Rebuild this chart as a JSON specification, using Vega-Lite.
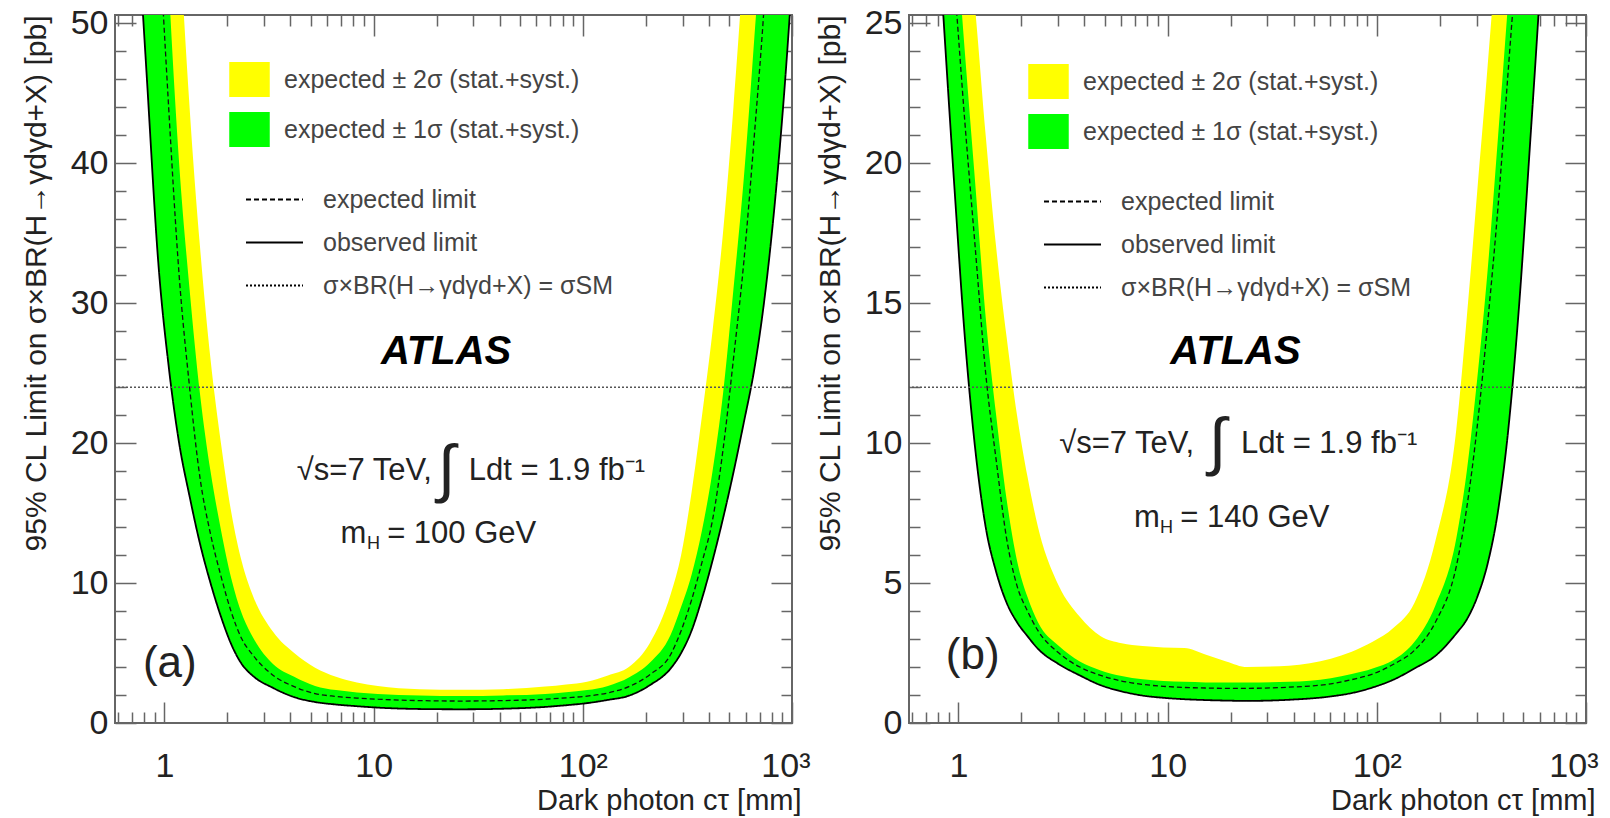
{
  "$schema": "https://vega.github.io/schema/vega-lite/v6.json",
  "background": "white",
  "padding": {"left": 20, "top": 5, "right": 0, "bottom": 0},
  "spacing": 3,
  "config": {
    "view": {"stroke": "#666", "strokeWidth": 2},
    "font": "Liberation Sans",
    "text": {"fontWeight": "normal"},
    "axis": {"grid": false, "domain": false, "tickColor": "#666", "tickWidth": 1.5, "labelFont": "Liberation Sans", "labelColor": "#222", "labelFlush": false, "labelOverlap": false, "titleFont": "Liberation Sans", "titleFontWeight": "normal", "titleColor": "#222"},
    "legend": {"labelFont": "Liberation Sans", "labelColor": "#444", "labelLimit": 0, "padding": 0}
  },
  "resolve": {
    "scale": {"x": "independent", "y": "independent", "fill": "independent", "strokeDash": "independent"},
    "legend": {"fill": "independent", "strokeDash": "independent"}
  },
  "datasets": {
    "m100": [
      {"ct": 0.589, "obs": 95, "exp": 160, "p1s": 190, "p2s": 250},
      {"ct": 0.661, "obs": 75, "exp": 125, "p1s": 150, "p2s": 200},
      {"ct": 0.741, "obs": 58, "exp": 98, "p1s": 120, "p2s": 160},
      {"ct": 0.832, "obs": 45, "exp": 76, "p1s": 92, "p2s": 125},
      {"ct": 0.933, "obs": 33, "exp": 58, "p1s": 70, "p2s": 97},
      {"ct": 1.047, "obs": 25.5, "exp": 44, "p1s": 53, "p2s": 75},
      {"ct": 1.175, "obs": 20, "exp": 32, "p1s": 40, "p2s": 57},
      {"ct": 1.318, "obs": 16.2, "exp": 24, "p1s": 31, "p2s": 44},
      {"ct": 1.479, "obs": 12.8, "exp": 17.5, "p1s": 23.5, "p2s": 34},
      {"ct": 1.66, "obs": 10, "exp": 13.5, "p1s": 18, "p2s": 26},
      {"ct": 1.862, "obs": 7.6, "exp": 10.5, "p1s": 13.8, "p2s": 20},
      {"ct": 2.089, "obs": 5.6, "exp": 7.9, "p1s": 10.3, "p2s": 15},
      {"ct": 2.344, "obs": 4.2, "exp": 6, "p1s": 7.8, "p2s": 11.5},
      {"ct": 2.63, "obs": 3.4, "exp": 4.9, "p1s": 6.2, "p2s": 9.2},
      {"ct": 3.311, "obs": 2.5, "exp": 3.4, "p1s": 4.2, "p2s": 6.5},
      {"ct": 4.169, "obs": 1.85, "exp": 2.6, "p1s": 3.3, "p2s": 5},
      {"ct": 5.248, "obs": 1.5, "exp": 2.1, "p1s": 2.65, "p2s": 3.95},
      {"ct": 6.607, "obs": 1.32, "exp": 1.9, "p1s": 2.35, "p2s": 3.3},
      {"ct": 8.318, "obs": 1.2, "exp": 1.78, "p1s": 2.18, "p2s": 2.9},
      {"ct": 10.47, "obs": 1.1, "exp": 1.7, "p1s": 2.08, "p2s": 2.65},
      {"ct": 16.6, "obs": 1.0, "exp": 1.6, "p1s": 1.97, "p2s": 2.42},
      {"ct": 26.3, "obs": 0.98, "exp": 1.57, "p1s": 1.93, "p2s": 2.38},
      {"ct": 41.69, "obs": 1.02, "exp": 1.6, "p1s": 1.97, "p2s": 2.42},
      {"ct": 66.07, "obs": 1.15, "exp": 1.7, "p1s": 2.08, "p2s": 2.6},
      {"ct": 83.18, "obs": 1.27, "exp": 1.8, "p1s": 2.2, "p2s": 2.75},
      {"ct": 104.7, "obs": 1.42, "exp": 1.92, "p1s": 2.35, "p2s": 2.95},
      {"ct": 131.8, "obs": 1.65, "exp": 2.15, "p1s": 2.65, "p2s": 3.4},
      {"ct": 166, "obs": 1.95, "exp": 2.6, "p1s": 3.25, "p2s": 4.0},
      {"ct": 208.9, "obs": 2.7, "exp": 3.45, "p1s": 4.3, "p2s": 5.7},
      {"ct": 263, "obs": 3.9, "exp": 4.9, "p1s": 6.3, "p2s": 9.2},
      {"ct": 295.1, "obs": 5.0, "exp": 6.6, "p1s": 8.3, "p2s": 12},
      {"ct": 331.1, "obs": 6.6, "exp": 8.8, "p1s": 10.6, "p2s": 16.5},
      {"ct": 371.5, "obs": 8.9, "exp": 11.5, "p1s": 13.8, "p2s": 22},
      {"ct": 416.9, "obs": 11.6, "exp": 14.5, "p1s": 18, "p2s": 28},
      {"ct": 467.7, "obs": 14.6, "exp": 19.5, "p1s": 23.5, "p2s": 35},
      {"ct": 524.8, "obs": 17.9, "exp": 26, "p1s": 31, "p2s": 44},
      {"ct": 588.8, "obs": 21.5, "exp": 33, "p1s": 39, "p2s": 55},
      {"ct": 660.7, "obs": 25.3, "exp": 42, "p1s": 49, "p2s": 70},
      {"ct": 741.3, "obs": 30.5, "exp": 52, "p1s": 60, "p2s": 90},
      {"ct": 831.8, "obs": 37.5, "exp": 66, "p1s": 78, "p2s": 115},
      {"ct": 933.3, "obs": 46.5, "exp": 85, "p1s": 100, "p2s": 150},
      {"ct": 1000, "obs": 53, "exp": 98, "p1s": 115, "p2s": 175}
    ],
    "m140": [
      {"ct": 0.575, "obs": 55, "exp": 70, "p1s": 78, "p2s": 90},
      {"ct": 0.603, "obs": 50, "exp": 62, "p1s": 70, "p2s": 82},
      {"ct": 0.676, "obs": 40, "exp": 48, "p1s": 54, "p2s": 66},
      {"ct": 0.759, "obs": 31, "exp": 38, "p1s": 43, "p2s": 52},
      {"ct": 0.851, "obs": 25, "exp": 31, "p1s": 34, "p2s": 40},
      {"ct": 0.955, "obs": 19.2, "exp": 26.5, "p1s": 29, "p2s": 33},
      {"ct": 1.072, "obs": 13.8, "exp": 21.5, "p1s": 24, "p2s": 29},
      {"ct": 1.202, "obs": 9.8, "exp": 17, "p1s": 19.3, "p2s": 25.5},
      {"ct": 1.349, "obs": 7.0, "exp": 12.5, "p1s": 14.5, "p2s": 21},
      {"ct": 1.514, "obs": 5.4, "exp": 9.4, "p1s": 11, "p2s": 17},
      {"ct": 1.698, "obs": 4.3, "exp": 6.6, "p1s": 8.0, "p2s": 13.8},
      {"ct": 1.905, "obs": 3.6, "exp": 4.9, "p1s": 5.8, "p2s": 11},
      {"ct": 2.138, "obs": 3.1, "exp": 4.0, "p1s": 4.5, "p2s": 8.8},
      {"ct": 2.399, "obs": 2.65, "exp": 3.3, "p1s": 3.6, "p2s": 7.0},
      {"ct": 3.02, "obs": 2.1, "exp": 2.5, "p1s": 2.75, "p2s": 4.9},
      {"ct": 3.802, "obs": 1.7, "exp": 2.0, "p1s": 2.2, "p2s": 3.8},
      {"ct": 4.786, "obs": 1.35, "exp": 1.7, "p1s": 1.88, "p2s": 3.1},
      {"ct": 6.026, "obs": 1.13, "exp": 1.5, "p1s": 1.68, "p2s": 2.85},
      {"ct": 7.586, "obs": 0.98, "exp": 1.38, "p1s": 1.56, "p2s": 2.75},
      {"ct": 9.55, "obs": 0.9, "exp": 1.31, "p1s": 1.5, "p2s": 2.7},
      {"ct": 12.02, "obs": 0.85, "exp": 1.27, "p1s": 1.47, "p2s": 2.68},
      {"ct": 15.14, "obs": 0.82, "exp": 1.25, "p1s": 1.45, "p2s": 2.45},
      {"ct": 19.05, "obs": 0.8, "exp": 1.24, "p1s": 1.45, "p2s": 2.2},
      {"ct": 23.99, "obs": 0.79, "exp": 1.24, "p1s": 1.45, "p2s": 2.0},
      {"ct": 38.02, "obs": 0.83, "exp": 1.28, "p1s": 1.47, "p2s": 2.05},
      {"ct": 60.26, "obs": 0.95, "exp": 1.4, "p1s": 1.6, "p2s": 2.3},
      {"ct": 75.86, "obs": 1.07, "exp": 1.55, "p1s": 1.75, "p2s": 2.55},
      {"ct": 95.5, "obs": 1.27, "exp": 1.75, "p1s": 1.95, "p2s": 2.9},
      {"ct": 120.2, "obs": 1.55, "exp": 2.1, "p1s": 2.25, "p2s": 3.4},
      {"ct": 151.4, "obs": 1.95, "exp": 2.6, "p1s": 2.9, "p2s": 4.3},
      {"ct": 190.5, "obs": 2.4, "exp": 3.6, "p1s": 4.2, "p2s": 6.5},
      {"ct": 239.9, "obs": 3.2, "exp": 5.6, "p1s": 6.6, "p2s": 10.5},
      {"ct": 269.2, "obs": 3.7, "exp": 7.7, "p1s": 9.0, "p2s": 14.5},
      {"ct": 302, "obs": 4.5, "exp": 10.6, "p1s": 12.3, "p2s": 19},
      {"ct": 338.8, "obs": 5.7, "exp": 14.3, "p1s": 16.2, "p2s": 23.5},
      {"ct": 380.2, "obs": 7.6, "exp": 18.5, "p1s": 21, "p2s": 28.5},
      {"ct": 426.6, "obs": 10.6, "exp": 23.5, "p1s": 26, "p2s": 35},
      {"ct": 478.6, "obs": 14.9, "exp": 28.5, "p1s": 31, "p2s": 42},
      {"ct": 537, "obs": 20.4, "exp": 34, "p1s": 39, "p2s": 50},
      {"ct": 602.6, "obs": 26.2, "exp": 44, "p1s": 48, "p2s": 60},
      {"ct": 676.1, "obs": 32.8, "exp": 53, "p1s": 61, "p2s": 72},
      {"ct": 758.6, "obs": 42, "exp": 70, "p1s": 77, "p2s": 88},
      {"ct": 851.1, "obs": 51, "exp": 85, "p1s": 92, "p2s": 105},
      {"ct": 955, "obs": 60, "exp": 100, "p1s": 104, "p2s": 125},
      {"ct": 1000, "obs": 64, "exp": 108, "p1s": 112, "p2s": 135}
    ],
    "one": [{"k": 1}]
  },
  "hconcat": [
    {
      "width": 677, "height": 708,
      "data": {"name": "m100"},
      "resolve": {"axis": {"x": "independent", "y": "independent"}},
      "layer": [
        {
          "mark": {"type": "area", "clip": true, "interpolate": "monotone", "opacity": 1},
          "encoding": {
            "x": {"field": "ct", "type": "quantitative", "scale": {"type": "log", "domain": [0.58, 1000], "nice": false},
              "axis": {"orient": "bottom", "values": [1, 10, 100, 1000], "labelExpr": "datum.value == 1 ? '1' : datum.value == 10 ? '10' : datum.value == 100 ? '10²' : '10³'", "tickSize": -21, "labelFontSize": 34, "labelPadding": 47, "labelFlush": true, "labelFlushOffset": 18, "title": "Dark photon cτ [mm]", "titleFontSize": 29, "titleX": 686, "titleAlign": "right", "titleAnchor": "end", "titlePadding": 3}},
            "y": {"field": "obs", "type": "quantitative", "scale": {"domain": [0, 50.6], "nice": false, "zero": false},
              "axis": {"orient": "left", "values": [0, 10, 20, 30, 40, 50], "tickSize": -21, "labelFontSize": 34, "labelPadding": 28, "title": "95% CL Limit on σ×BR(H→γdγd+X) [pb]", "titleFontSize": 30, "titleAnchor": "end", "titlePadding": 19}},
            "y2": {"field": "p2s"},
            "fill": {"datum": "expected ± 2σ (stat.+syst.)", "type": "nominal",
              "scale": {"domain": ["expected ± 2σ (stat.+syst.)", "expected ± 1σ (stat.+syst.)"], "range": ["#ffff00", "#00ff00"]},
              "legend": {"orient": "none", "legendX": 114, "legendY": 44, "title": null, "symbolType": "M-1,-0.86L1,-0.86L1,0.86L-1,0.86Z", "symbolSize": 1640, "symbolStrokeWidth": 0, "symbolOpacity": 1, "labelFontSize": 25, "labelOffset": 14, "rowPadding": 12}}
          }
        },
        {
          "mark": {"type": "area", "clip": true, "interpolate": "monotone", "opacity": 1},
          "encoding": {
            "x": {"field": "ct", "type": "quantitative", "scale": {"type": "log", "domain": [0.58, 1000], "nice": false},
              "axis": {"orient": "top", "values": [1, 10, 100, 1000], "labels": false, "tickSize": -21, "title": null}},
            "y": {"field": "obs", "type": "quantitative", "scale": {"domain": [0, 50.6], "nice": false, "zero": false},
              "axis": {"orient": "right", "values": [0, 10, 20, 30, 40, 50], "labels": false, "tickSize": -21, "title": null}},
            "y2": {"field": "p1s"},
            "fill": {"datum": "expected ± 1σ (stat.+syst.)", "type": "nominal"}
          }
        },
        {
          "mark": {"type": "line", "clip": true, "interpolate": "monotone", "color": "#111", "strokeWidth": 1.3},
          "encoding": {
            "x": {"field": "ct", "type": "quantitative", "scale": {"type": "log", "domain": [0.58, 1000], "nice": false},
              "axis": {"orient": "bottom", "values": [0.6, 0.7, 0.8, 0.9, 2, 3, 4, 5, 6, 7, 8, 9, 20, 30, 40, 50, 60, 70, 80, 90, 200, 300, 400, 500, 600, 700, 800, 900], "labels": false, "tickSize": -11, "title": null}},
            "y": {"field": "exp", "type": "quantitative", "scale": {"domain": [0, 50.6], "nice": false, "zero": false},
              "axis": {"orient": "left", "values": [2, 4, 6, 8, 12, 14, 16, 18, 22, 24, 26, 28, 32, 34, 36, 38, 42, 44, 46, 48], "labels": false, "tickSize": -11, "title": null}},
            "strokeDash": {"datum": "expected limit", "type": "nominal",
              "scale": {"domain": ["expected limit", "observed limit", "σ×BR(H→γdγd+X) = σSM"], "range": [[5, 3], [1, 0], [2, 2]]},
              "legend": {"orient": "none", "legendX": 130, "legendY": 155, "title": null, "symbolType": "stroke", "symbolSize": 3249, "symbolStrokeWidth": 2, "symbolStrokeColor": "#555", "labelFontSize": 25, "labelOffset": 19, "rowPadding": -12}}
          }
        },
        {
          "mark": {"type": "line", "clip": true, "interpolate": "monotone", "color": "#000", "strokeWidth": 1.8},
          "encoding": {
            "x": {"field": "ct", "type": "quantitative", "scale": {"type": "log", "domain": [0.58, 1000], "nice": false},
              "axis": {"orient": "top", "values": [0.6, 0.7, 0.8, 0.9, 2, 3, 4, 5, 6, 7, 8, 9, 20, 30, 40, 50, 60, 70, 80, 90, 200, 300, 400, 500, 600, 700, 800, 900], "labels": false, "tickSize": -11, "title": null}},
            "y": {"field": "obs", "type": "quantitative", "scale": {"domain": [0, 50.6], "nice": false, "zero": false},
              "axis": {"orient": "right", "values": [2, 4, 6, 8, 12, 14, 16, 18, 22, 24, 26, 28, 32, 34, 36, 38, 42, 44, 46, 48], "labels": false, "tickSize": -11, "title": null}},
            "strokeDash": {"datum": "observed limit", "type": "nominal"}
          }
        },
        {
          "data": {"name": "one"},
          "mark": {"type": "rule", "color": "#555", "strokeWidth": 1.6},
          "encoding": {
            "y": {"datum": 24, "type": "quantitative", "scale": {"domain": [0, 50.6], "nice": false, "zero": false}, "axis": null},
            "strokeDash": {"datum": "σ×BR(H→γdγd+X) = σSM", "type": "nominal"}
          }
        },
        {
          "data": {"name": "one"},
          "mark": {"type": "text", "text": "ATLAS", "font": "Liberation Sans", "fontSize": 40, "fontWeight": "bold", "fontStyle": "italic", "align": "center", "baseline": "middle", "fill": "#000"},
          "encoding": {
            "x": {"datum": 22.2, "type": "quantitative", "scale": {"type": "log", "domain": [0.58, 1000], "nice": false}, "axis": null},
            "y": {"datum": 26.5, "type": "quantitative", "scale": {"domain": [0, 50.6], "nice": false, "zero": false}, "axis": null}
          }
        },
        {
          "data": {"name": "one"},
          "mark": {"type": "text", "text": "√s=7 TeV,", "fontSize": 31, "fontWeight": "normal", "align": "right", "baseline": "middle", "fill": "#222"},
          "encoding": {
            "x": {"datum": 19.0, "type": "quantitative", "scale": {"type": "log", "domain": [0.58, 1000], "nice": false}, "axis": null},
            "y": {"datum": 18.0, "type": "quantitative", "scale": {"domain": [0, 50.6], "nice": false, "zero": false}, "axis": null}
          }
        },
        {
          "data": {"name": "one"},
          "mark": {"type": "text", "text": "∫", "fontSize": 64, "fontWeight": "normal", "align": "center", "baseline": "middle", "fill": "#222"},
          "encoding": {
            "x": {"datum": 22.3, "type": "quantitative", "scale": {"type": "log", "domain": [0.58, 1000], "nice": false}, "axis": null},
            "y": {"datum": 18.0, "type": "quantitative", "scale": {"domain": [0, 50.6], "nice": false, "zero": false}, "axis": null}
          }
        },
        {
          "data": {"name": "one"},
          "mark": {"type": "text", "text": "Ldt = 1.9 fb⁻¹", "fontSize": 31, "fontWeight": "normal", "align": "left", "baseline": "middle", "fill": "#222"},
          "encoding": {
            "x": {"datum": 28.5, "type": "quantitative", "scale": {"type": "log", "domain": [0.58, 1000], "nice": false}, "axis": null},
            "y": {"datum": 18.0, "type": "quantitative", "scale": {"domain": [0, 50.6], "nice": false, "zero": false}, "axis": null}
          }
        },
        {
          "data": {"name": "one"},
          "mark": {"type": "text", "text": "m", "fontSize": 31, "fontWeight": "normal", "align": "left", "baseline": "middle", "fill": "#222"},
          "encoding": {
            "x": {"datum": 6.95, "type": "quantitative", "scale": {"type": "log", "domain": [0.58, 1000], "nice": false}, "axis": null},
            "y": {"datum": 13.5, "type": "quantitative", "scale": {"domain": [0, 50.6], "nice": false, "zero": false}, "axis": null}
          }
        },
        {
          "data": {"name": "one"},
          "mark": {"type": "text", "text": "H", "fontSize": 18, "fontWeight": "normal", "align": "left", "baseline": "middle", "dy": 10, "fill": "#222"},
          "encoding": {
            "x": {"datum": 9.29, "type": "quantitative", "scale": {"type": "log", "domain": [0.58, 1000], "nice": false}, "axis": null},
            "y": {"datum": 13.5, "type": "quantitative", "scale": {"domain": [0, 50.6], "nice": false, "zero": false}, "axis": null}
          }
        },
        {
          "data": {"name": "one"},
          "mark": {"type": "text", "text": "= 100 GeV", "fontSize": 31, "fontWeight": "normal", "align": "left", "baseline": "middle", "fill": "#222"},
          "encoding": {
            "x": {"datum": 11.6, "type": "quantitative", "scale": {"type": "log", "domain": [0.58, 1000], "nice": false}, "axis": null},
            "y": {"datum": 13.5, "type": "quantitative", "scale": {"domain": [0, 50.6], "nice": false, "zero": false}, "axis": null}
          }
        },
        {
          "data": {"name": "one"},
          "mark": {"type": "text", "text": "(a)", "fontSize": 44, "fontWeight": "normal", "align": "center", "baseline": "middle", "fill": "#222"},
          "encoding": {
            "x": {"datum": 1.06, "type": "quantitative", "scale": {"type": "log", "domain": [0.58, 1000], "nice": false}, "axis": null},
            "y": {"datum": 4.22, "type": "quantitative", "scale": {"domain": [0, 50.6], "nice": false, "zero": false}, "axis": null}
          }
        }
      ]
    },
    {
      "width": 677, "height": 708,
      "data": {"name": "m140"},
      "resolve": {"axis": {"x": "independent", "y": "independent"}},
      "layer": [
        {
          "mark": {"type": "area", "clip": true, "interpolate": "monotone", "opacity": 1},
          "encoding": {
            "x": {"field": "ct", "type": "quantitative", "scale": {"type": "log", "domain": [0.58, 1000], "nice": false},
              "axis": {"orient": "bottom", "values": [1, 10, 100, 1000], "labelExpr": "datum.value == 1 ? '1' : datum.value == 10 ? '10' : datum.value == 100 ? '10²' : '10³'", "tickSize": -21, "labelFontSize": 34, "labelPadding": 47, "labelFlush": true, "labelFlushOffset": 12, "title": "Dark photon cτ [mm]", "titleFontSize": 29, "titleX": 686, "titleAlign": "right", "titleAnchor": "end", "titlePadding": 3}},
            "y": {"field": "obs", "type": "quantitative", "scale": {"domain": [0, 25.3], "nice": false, "zero": false},
              "axis": {"orient": "left", "values": [0, 5, 10, 15, 20, 25], "tickSize": -21, "labelFontSize": 34, "labelPadding": 28, "title": "95% CL Limit on σ×BR(H→γdγd+X) [pb]", "titleFontSize": 30, "titleAnchor": "end", "titlePadding": 19}},
            "y2": {"field": "p2s"},
            "fill": {"datum": "expected ± 2σ (stat.+syst.)", "type": "nominal",
              "scale": {"domain": ["expected ± 2σ (stat.+syst.)", "expected ± 1σ (stat.+syst.)"], "range": ["#ffff00", "#00ff00"]},
              "legend": {"orient": "none", "legendX": 119, "legendY": 46, "title": null, "symbolType": "M-1,-0.86L1,-0.86L1,0.86L-1,0.86Z", "symbolSize": 1640, "symbolStrokeWidth": 0, "symbolOpacity": 1, "labelFontSize": 25, "labelOffset": 14, "rowPadding": 12}}
          }
        },
        {
          "mark": {"type": "area", "clip": true, "interpolate": "monotone", "opacity": 1},
          "encoding": {
            "x": {"field": "ct", "type": "quantitative", "scale": {"type": "log", "domain": [0.58, 1000], "nice": false},
              "axis": {"orient": "top", "values": [1, 10, 100, 1000], "labels": false, "tickSize": -21, "title": null}},
            "y": {"field": "obs", "type": "quantitative", "scale": {"domain": [0, 25.3], "nice": false, "zero": false},
              "axis": {"orient": "right", "values": [0, 5, 10, 15, 20, 25], "labels": false, "tickSize": -21, "title": null}},
            "y2": {"field": "p1s"},
            "fill": {"datum": "expected ± 1σ (stat.+syst.)", "type": "nominal"}
          }
        },
        {
          "mark": {"type": "line", "clip": true, "interpolate": "monotone", "color": "#111", "strokeWidth": 1.3},
          "encoding": {
            "x": {"field": "ct", "type": "quantitative", "scale": {"type": "log", "domain": [0.58, 1000], "nice": false},
              "axis": {"orient": "bottom", "values": [0.6, 0.7, 0.8, 0.9, 2, 3, 4, 5, 6, 7, 8, 9, 20, 30, 40, 50, 60, 70, 80, 90, 200, 300, 400, 500, 600, 700, 800, 900], "labels": false, "tickSize": -11, "title": null}},
            "y": {"field": "exp", "type": "quantitative", "scale": {"domain": [0, 25.3], "nice": false, "zero": false},
              "axis": {"orient": "left", "values": [1, 2, 3, 4, 6, 7, 8, 9, 11, 12, 13, 14, 16, 17, 18, 19, 21, 22, 23, 24], "labels": false, "tickSize": -11, "title": null}},
            "strokeDash": {"datum": "expected limit", "type": "nominal",
              "scale": {"domain": ["expected limit", "observed limit", "σ×BR(H→γdγd+X) = σSM"], "range": [[5, 3], [1, 0], [2, 2]]},
              "legend": {"orient": "none", "legendX": 134, "legendY": 157, "title": null, "symbolType": "stroke", "symbolSize": 3249, "symbolStrokeWidth": 2, "symbolStrokeColor": "#555", "labelFontSize": 25, "labelOffset": 19, "rowPadding": -12}}
          }
        },
        {
          "mark": {"type": "line", "clip": true, "interpolate": "monotone", "color": "#000", "strokeWidth": 1.8},
          "encoding": {
            "x": {"field": "ct", "type": "quantitative", "scale": {"type": "log", "domain": [0.58, 1000], "nice": false},
              "axis": {"orient": "top", "values": [0.6, 0.7, 0.8, 0.9, 2, 3, 4, 5, 6, 7, 8, 9, 20, 30, 40, 50, 60, 70, 80, 90, 200, 300, 400, 500, 600, 700, 800, 900], "labels": false, "tickSize": -11, "title": null}},
            "y": {"field": "obs", "type": "quantitative", "scale": {"domain": [0, 25.3], "nice": false, "zero": false},
              "axis": {"orient": "right", "values": [1, 2, 3, 4, 6, 7, 8, 9, 11, 12, 13, 14, 16, 17, 18, 19, 21, 22, 23, 24], "labels": false, "tickSize": -11, "title": null}},
            "strokeDash": {"datum": "observed limit", "type": "nominal"}
          }
        },
        {
          "data": {"name": "one"},
          "mark": {"type": "rule", "color": "#555", "strokeWidth": 1.6},
          "encoding": {
            "y": {"datum": 12, "type": "quantitative", "scale": {"domain": [0, 25.3], "nice": false, "zero": false}, "axis": null},
            "strokeDash": {"datum": "σ×BR(H→γdγd+X) = σSM", "type": "nominal"}
          }
        },
        {
          "data": {"name": "one"},
          "mark": {"type": "text", "text": "ATLAS", "font": "Liberation Sans", "fontSize": 40, "fontWeight": "bold", "fontStyle": "italic", "align": "center", "baseline": "middle", "fill": "#000"},
          "encoding": {
            "x": {"datum": 21.1, "type": "quantitative", "scale": {"type": "log", "domain": [0.58, 1000], "nice": false}, "axis": null},
            "y": {"datum": 13.25, "type": "quantitative", "scale": {"domain": [0, 25.3], "nice": false, "zero": false}, "axis": null}
          }
        },
        {
          "data": {"name": "one"},
          "mark": {"type": "text", "text": "√s=7 TeV,", "fontSize": 31, "fontWeight": "normal", "align": "right", "baseline": "middle", "fill": "#222"},
          "encoding": {
            "x": {"datum": 13.4, "type": "quantitative", "scale": {"type": "log", "domain": [0.58, 1000], "nice": false}, "axis": null},
            "y": {"datum": 9.96, "type": "quantitative", "scale": {"domain": [0, 25.3], "nice": false, "zero": false}, "axis": null}
          }
        },
        {
          "data": {"name": "one"},
          "mark": {"type": "text", "text": "∫", "fontSize": 64, "fontWeight": "normal", "align": "center", "baseline": "middle", "fill": "#222"},
          "encoding": {
            "x": {"datum": 17.3, "type": "quantitative", "scale": {"type": "log", "domain": [0.58, 1000], "nice": false}, "axis": null},
            "y": {"datum": 9.96, "type": "quantitative", "scale": {"domain": [0, 25.3], "nice": false, "zero": false}, "axis": null}
          }
        },
        {
          "data": {"name": "one"},
          "mark": {"type": "text", "text": "Ldt = 1.9 fb⁻¹", "fontSize": 31, "fontWeight": "normal", "align": "left", "baseline": "middle", "fill": "#222"},
          "encoding": {
            "x": {"datum": 22.4, "type": "quantitative", "scale": {"type": "log", "domain": [0.58, 1000], "nice": false}, "axis": null},
            "y": {"datum": 9.96, "type": "quantitative", "scale": {"domain": [0, 25.3], "nice": false, "zero": false}, "axis": null}
          }
        },
        {
          "data": {"name": "one"},
          "mark": {"type": "text", "text": "m", "fontSize": 31, "fontWeight": "normal", "align": "left", "baseline": "middle", "fill": "#222"},
          "encoding": {
            "x": {"datum": 6.9, "type": "quantitative", "scale": {"type": "log", "domain": [0.58, 1000], "nice": false}, "axis": null},
            "y": {"datum": 7.34, "type": "quantitative", "scale": {"domain": [0, 25.3], "nice": false, "zero": false}, "axis": null}
          }
        },
        {
          "data": {"name": "one"},
          "mark": {"type": "text", "text": "H", "fontSize": 18, "fontWeight": "normal", "align": "left", "baseline": "middle", "dy": 10, "fill": "#222"},
          "encoding": {
            "x": {"datum": 9.2, "type": "quantitative", "scale": {"type": "log", "domain": [0.58, 1000], "nice": false}, "axis": null},
            "y": {"datum": 7.34, "type": "quantitative", "scale": {"domain": [0, 25.3], "nice": false, "zero": false}, "axis": null}
          }
        },
        {
          "data": {"name": "one"},
          "mark": {"type": "text", "text": "= 140 GeV", "fontSize": 31, "fontWeight": "normal", "align": "left", "baseline": "middle", "fill": "#222"},
          "encoding": {
            "x": {"datum": 11.5, "type": "quantitative", "scale": {"type": "log", "domain": [0.58, 1000], "nice": false}, "axis": null},
            "y": {"datum": 7.34, "type": "quantitative", "scale": {"domain": [0, 25.3], "nice": false, "zero": false}, "axis": null}
          }
        },
        {
          "data": {"name": "one"},
          "mark": {"type": "text", "text": "(b)", "fontSize": 44, "fontWeight": "normal", "align": "center", "baseline": "middle", "fill": "#222"},
          "encoding": {
            "x": {"datum": 1.17, "type": "quantitative", "scale": {"type": "log", "domain": [0.58, 1000], "nice": false}, "axis": null},
            "y": {"datum": 2.39, "type": "quantitative", "scale": {"domain": [0, 25.3], "nice": false, "zero": false}, "axis": null}
          }
        }
      ]
    }
  ]
}
